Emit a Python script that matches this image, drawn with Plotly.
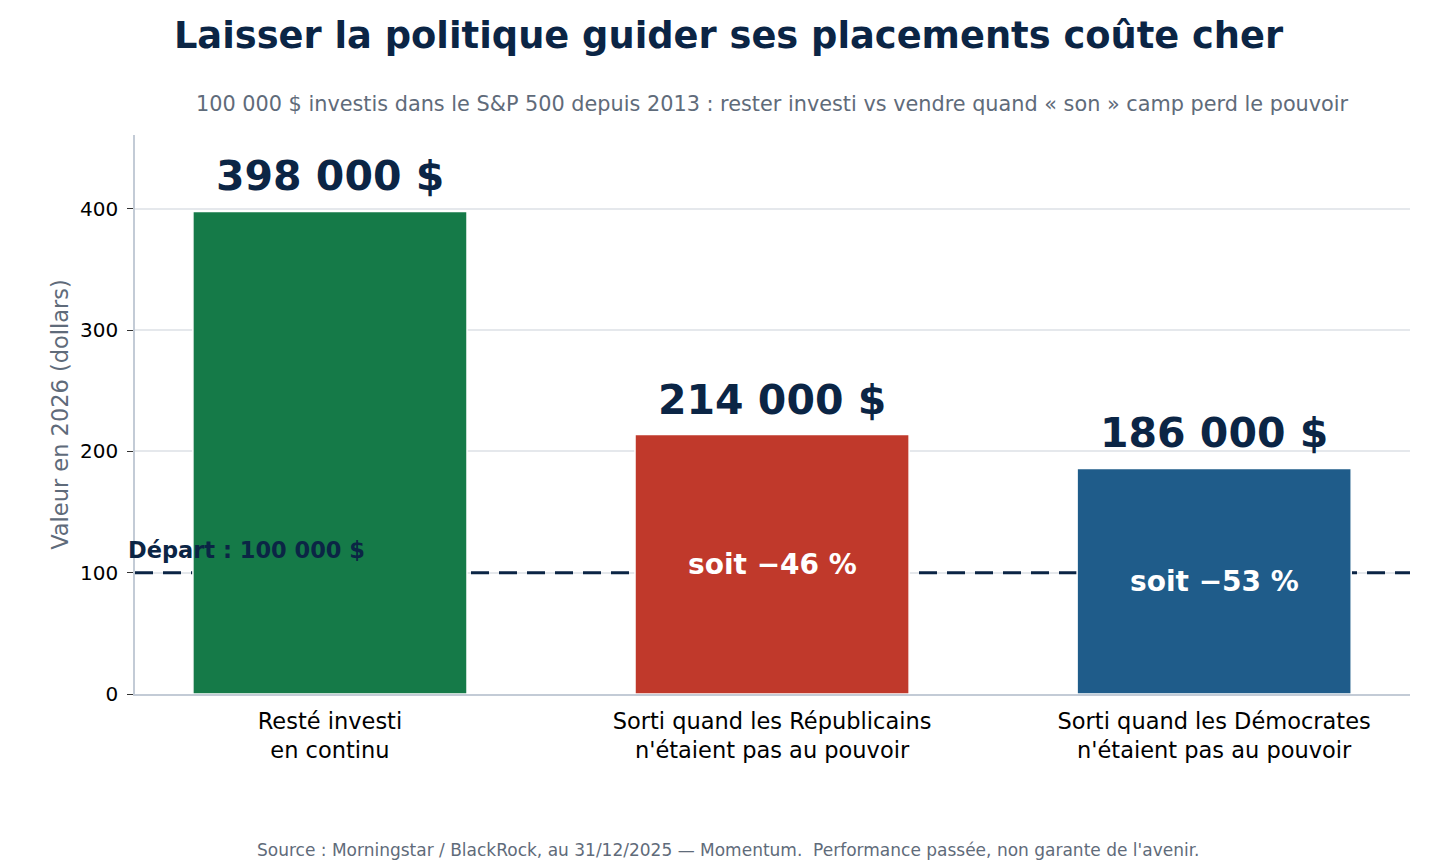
import plotly.graph_objects as go

# data (values in thousands of dollars)
categories = ["Resté investi<br>en continu",
              "Sorti quand les Républicains<br>n'étaient pas au pouvoir",
              "Sorti quand les Démocrates<br>n'étaient pas au pouvoir"]
values = [398, 214, 186]
colors = ["#157A48", "#C0392B", "#1F5C8A"]
start_value = 100
y_ticks = [0, 100, 200, 300, 400]

navy = "#0B2545"
font = "DejaVu Sans"
x_range = [-0.441, 2.443]

fig = go.Figure()
fig.add_trace(go.Bar(
    x=categories, y=values,
    marker=dict(color=colors, line=dict(color="white", width=1.5)),
    width=0.62, hoverinfo="skip"))

# starting line (above grid, under bars)
fig.add_shape(type="line", xref="x", yref="y", x0=x_range[0], x1=x_range[1],
              y0=start_value, y1=start_value,
              line=dict(color=navy, width=3, dash="18px,10px"), layer="between")
fig.add_annotation(xref="paper", x=-0.007, y=start_value, yshift=23, xanchor="left",
                   text="<b>Départ : 100 000 $</b>", showarrow=False,
                   font=dict(family=font, size=22.5, color=navy))

# labels above and inside bars
for i, v in enumerate(values):
    fig.add_annotation(x=categories[i], y=v, yshift=35, text=f"<b>{v} 000 $</b>",
                       showarrow=False, font=dict(family=font, size=41, color=navy))
    if i > 0:
        pct = round((v - values[0]) / values[0] * 100)
        fig.add_annotation(x=categories[i], y=v / 2, text=f"<b>soit \u2212{abs(pct)} %</b>",
                           showarrow=False, font=dict(family=font, size=28, color="white"))

fig.update_layout(
    width=1448, height=857,
    margin=dict(l=127, r=46, t=127, b=171),
    plot_bgcolor="white", paper_bgcolor="white",
    font=dict(family=font, color="black"),
    showlegend=False,
    title=dict(text="<b>Laisser la politique guider ses placements coûte cher</b>",
               x=0.4976, xanchor="center", y=0.9685, yanchor="middle",
               font=dict(family=font, size=36.8, color=navy)),
)
fig.add_annotation(xref="paper", yref="paper", x=0.5, y=1.0, yshift=45,
                   text="100 000 $ investis dans le S&P 500 depuis 2013 : rester investi vs vendre quand « son » camp perd le pouvoir",
                   showarrow=False, font=dict(family=font, size=20.8, color="#5F6B7A"))
fig.add_annotation(xref="paper", yref="paper", x=0.465, y=0, yshift=-168,
                   text="Source : Morningstar / BlackRock, au 31/12/2025 — Momentum.  Performance passée, non garante de l'avenir.",
                   showarrow=False, font=dict(family=font, size=17, color="#5F6B7A"))

fig.update_xaxes(range=x_range, showline=True, linecolor="#C3CBD6", linewidth=1.5,
                 showgrid=False, ticks="", ticklabelstandoff=6,
                 tickfont=dict(size=22.5, color="black"))
fig.update_yaxes(range=[0, 461], tickvals=y_ticks, showline=True, linecolor="#C3CBD6", linewidth=1.5,
                 showgrid=True, gridcolor="#E5E8EC", gridwidth=1.5, zeroline=False,
                 ticks="outside", ticklen=6, tickcolor="#333", ticklabelstandoff=5,
                 tickfont=dict(size=20, color="black"),
                 title=dict(text="Valeur en 2026 (dollars)", font=dict(size=22.5, color="#5F6B7A"), standoff=5))

fig.write_html("out.html")
